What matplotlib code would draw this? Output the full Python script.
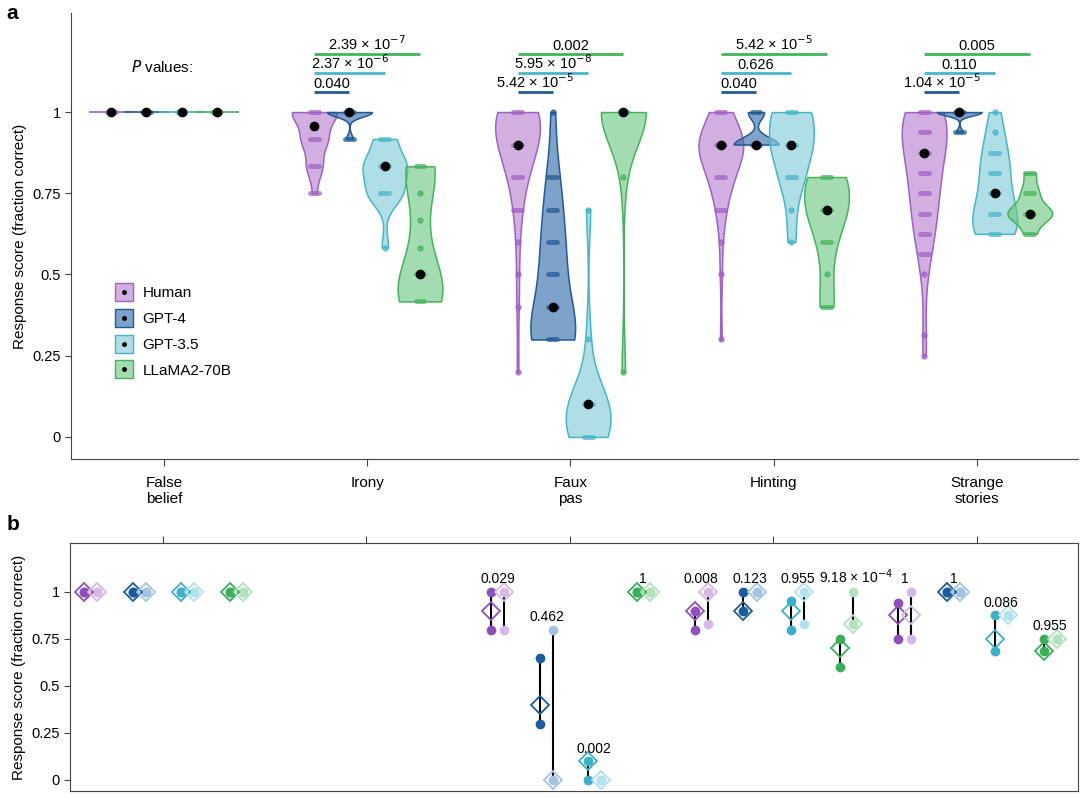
import numpy as np
import matplotlib.pyplot as plt
from matplotlib.colors import to_rgba
from matplotlib.lines import Line2D

plt.rcParams['font.family'] = ['Liberation Sans', 'DejaVu Sans']

categories = ['False\nbelief', 'Irony', 'Faux\npas', 'Hinting', 'Strange\nstories']
models = ['Human', 'GPT-4', 'GPT-3.5', 'LLaMA2-70B']

# panel a: observed scores as (value, count) for Human, GPT-4, GPT-3.5, LLaMA2-70B
false_belief_scores = [[(1, 50)], [(1, 15)], [(1, 15)], [(1, 15)]]
irony_scores = [
    [(1, 23), (0.917, 13), (0.833, 8), (0.75, 2)],
    [(1, 13), (0.917, 2)],
    [(0.917, 3), (0.833, 6), (0.75, 5), (0.583, 1)],
    [(0.833, 4), (0.75, 1), (0.667, 1), (0.583, 1), (0.5, 3), (0.417, 5)],
]
faux_pas_scores = [
    [(1, 20), (0.9, 15), (0.8, 6), (0.7, 3), (0.6, 1), (0.5, 1), (0.4, 1), (0.2, 1)],
    [(1, 1), (0.8, 2), (0.7, 2), (0.6, 3), (0.5, 3), (0.4, 3), (0.3, 9)],
    [(0.7, 1), (0.3, 1), (0.1, 7), (0, 6)],
    [(1, 13), (0.8, 1), (0.2, 1)],
]
hinting_scores = [
    [(1, 8), (0.9, 22), (0.8, 10), (0.7, 4), (0.6, 1), (0.5, 1), (0.3, 1)],
    [(1, 4), (0.9, 11)],
    [(1, 5), (0.9, 5), (0.8, 3), (0.7, 1), (0.6, 1)],
    [(0.8, 5), (0.7, 5), (0.6, 2), (0.5, 1), (0.4, 2)],
]
strange_scores = [
    [(1, 12), (0.9375, 8), (0.875, 6), (0.8125, 5), (0.75, 5), (0.6875, 4),
     (0.625, 4), (0.5625, 2), (0.5, 1), (0.3125, 1), (0.25, 1)],
    [(1, 13), (0.9375, 2)],
    [(1, 1), (0.9375, 1), (0.875, 2), (0.8125, 2), (0.75, 2), (0.6875, 3), (0.625, 4)],
    [(0.8125, 2), (0.75, 3), (0.6875, 8), (0.625, 2)],
]
all_scores = [false_belief_scores, irony_scores, faux_pas_scores, hinting_scores, strange_scores]

# P values vs GPT-4, GPT-3.5, LLaMA2-70B (None = not shown)
pvals_a = [
    None,
    ['0.040', '2.37 × 10$^{-6}$', '2.39 × 10$^{-7}$'],
    ['5.42 × 10$^{-5}$', '5.95 × 10$^{-8}$', '0.002'],
    ['0.040', '0.626', '5.42 × 10$^{-5}$'],
    ['1.04 × 10$^{-5}$', '0.110', '0.005'],
]

# panel b: original (dark) and variant (light) scores: low, high, diamond
orig_lo = [[1, 1, 1, 1], None, [0.8, 0.3, 0, 1], [0.8, 0.9, 0.8, 0.6], [0.75, 1, 0.6875, 0.6875]]
orig_hi = [[1, 1, 1, 1], None, [1, 0.65, 0.1, 1], [0.9, 1, 0.95, 0.75], [0.94, 1, 0.875, 0.75]]
orig_mid = [[1, 1, 1, 1], None, [0.9, 0.4, 0.1, 1], [0.9, 0.9, 0.9, 0.7], [0.875, 1, 0.75, 0.6875]]
var_lo = [[1, 1, 1, 1], None, [0.8, 0, 0, 1], [0.83, 1, 0.83, 0.83], [0.75, 1, 0.875, 0.75]]
var_hi = [[1, 1, 1, 1], None, [1, 0.8, 0, 1], [1, 1, 1, 1], [1, 1, 0.875, 0.75]]
var_mid = [[1, 1, 1, 1], None, [1, 0, 0, 1], [1, 1, 1, 0.83], [0.875, 1, 0.875, 0.75]]
pvals_b = [
    None, None,
    ['0.029', '0.462', '0.002', '1'],
    ['0.008', '0.123', '0.955', '9.18 × 10$^{-4}$'],
    ['1', '1', '0.086', '0.955'],
]

fill_colors = ['#b57fd0', '#2f6aa8', '#7fcbd9', '#6cc782']
edge_colors = ['#a060c4', '#235a94', '#47b5c8', '#45b35c']
dark_colors = ['#8e50b8', '#1c5c9c', '#3db0c8', '#3aae58']
light_colors = ['#d6b9e4', '#a3c3e0', '#b3e2ec', '#b2e2bd']

a_offsets = [-0.26, -0.087, 0.087, 0.26]
b_offsets = [-0.355, -0.115, 0.12, 0.36]
pair_gap = 0.032
vwidth = 0.22

fig = plt.figure(figsize=(10.8, 7.98), dpi=100)
ax = fig.add_axes([71 / 1080, 1 - 459 / 798, 1007 / 1080, 446 / 798])

for ci, cat_scores in enumerate(all_scores):
    for mi, pairs in enumerate(cat_scores):
        vals = np.repeat([v for v, c in pairs], [c for v, c in pairs]).astype(float)
        pos = ci + a_offsets[mi]
        if np.ptp(vals) == 0:
            ax.hlines(vals[0], pos - vwidth / 2, pos + vwidth / 2, color=edge_colors[mi], lw=1.2, zorder=2)
        else:
            parts = ax.violinplot([vals], positions=[pos], widths=vwidth, bw_method=0.48,
                                  showextrema=False, showmedians=False)
            for body in parts['bodies']:
                body.set_alpha(None)
                body.set_facecolor(to_rgba(fill_colors[mi], 0.62))
                body.set_edgecolor(edge_colors[mi])
                body.set_linewidth(1.1)
                body.set_zorder(2 + mi * 0.1)
        for v, c in pairs:
            if c > 1:
                ax.hlines(v, pos - 0.022, pos + 0.022, color=edge_colors[mi], lw=3.5,
                          alpha=0.75, capstyle='round', zorder=3)
            else:
                ax.plot(pos, v, 'o', ms=3.5, color=edge_colors[mi], alpha=0.75, zorder=3)
        ax.plot(pos, np.median(vals), 'o', ms=6, color='black', zorder=4)

    if pvals_a[ci] is not None:
        levels = [1.062, 1.12, 1.18]
        x0 = ci + a_offsets[0]
        for k in range(3):
            x1 = ci + a_offsets[k + 1]
            ax.hlines(levels[k], x0, x1, color=edge_colors[k + 1], lw=2)
            ax.text((x0 + x1) / 2, levels[k] + 0.012, pvals_a[ci][k], ha='center',
                    va='baseline', fontsize=10.5)

ax.text(-0.01, 1.14, '$P$ values:', ha='center', va='center', fontsize=11)

ax.set_xlim(-0.457, 4.497)
ax.set_ylim(-0.068, 1.305)
ax.set_xticks(range(len(categories)))
ax.set_xticklabels(categories, fontsize=11)
ax.set_yticks([0, 0.25, 0.5, 0.75, 1])
ax.set_yticklabels(['0', '0.25', '0.5', '0.75', '1'], fontsize=10.5)
ax.spines['top'].set_visible(False)
ax.spines['right'].set_visible(False)
for s in ['left', 'bottom']:
    ax.spines[s].set_color('#444444')
ax.tick_params(axis='x', length=5, color='#444444', pad=7)
ax.tick_params(axis='y', length=4, color='#444444')
ax.set_ylabel('Response score (fraction correct)', fontsize=11)

handles = [(Line2D([], [], marker='s', ms=13, mfc=to_rgba(fill_colors[i], 0.62),
                   mec=edge_colors[i], ls=''),
            Line2D([], [], marker='o', ms=2.5, color='black', ls=''))
           for i in range(4)]
ax.legend(handles, models, loc='center left', bbox_to_anchor=(0.03, 0.285), frameon=False,
          fontsize=11, handlelength=1.2, labelspacing=0.78, handletextpad=0.6)

# panel b
bx = fig.add_axes([70 / 1080, 1 - 791 / 798, 1008 / 1080, 248 / 798])
for ci in range(len(categories)):
    if orig_lo[ci] is None:
        continue
    for mi in range(4):
        xc = ci + b_offsets[mi]
        xd, xl = xc - pair_gap, xc + pair_gap
        for x, lo, hi, mid, col in [(xd, orig_lo[ci][mi], orig_hi[ci][mi], orig_mid[ci][mi], dark_colors[mi]),
                                    (xl, var_lo[ci][mi], var_hi[ci][mi], var_mid[ci][mi], light_colors[mi])]:
            bx.vlines(x, lo, hi, color='black', lw=1.5, zorder=1)
            bx.plot([x, x], [lo, hi], 'o', ms=6, color=col, zorder=2)
            bx.plot(x, mid, 'D', ms=9, mfc='none', mec=col, mew=1.3, zorder=3)
        if pvals_b[ci] is not None:
            label = pvals_b[ci][mi]
            top = max(orig_hi[ci][mi], var_hi[ci][mi])
            # long labels are nudged right so they clear their neighbour
            tx = xc + (0.045 if '×' in label else 0)
            bx.text(tx, top + 0.045, label, ha='center', va='baseline', fontsize=10)

bx.set_xlim(-0.457, 4.497)
bx.set_ylim(-0.0585, 1.26)
bx.xaxis.tick_top()
bx.set_xticks(range(len(categories)))
bx.set_xticklabels([])
bx.set_yticks([0, 0.25, 0.5, 0.75, 1])
bx.set_yticklabels(['0', '0.25', '0.5', '0.75', '1'], fontsize=10.5)
for s in bx.spines.values():
    s.set_color('#444444')
bx.tick_params(axis='x', length=5, color='#444444')
bx.tick_params(axis='y', length=4, color='#444444')
bx.set_ylabel('Response score (fraction correct)', fontsize=11)

fig.text(0.006, 0.995, 'a', fontsize=15, fontweight='bold', va='top')
fig.text(0.006, 0.355, 'b', fontsize=15, fontweight='bold', va='top')

fig.savefig('out.png', dpi=100)
